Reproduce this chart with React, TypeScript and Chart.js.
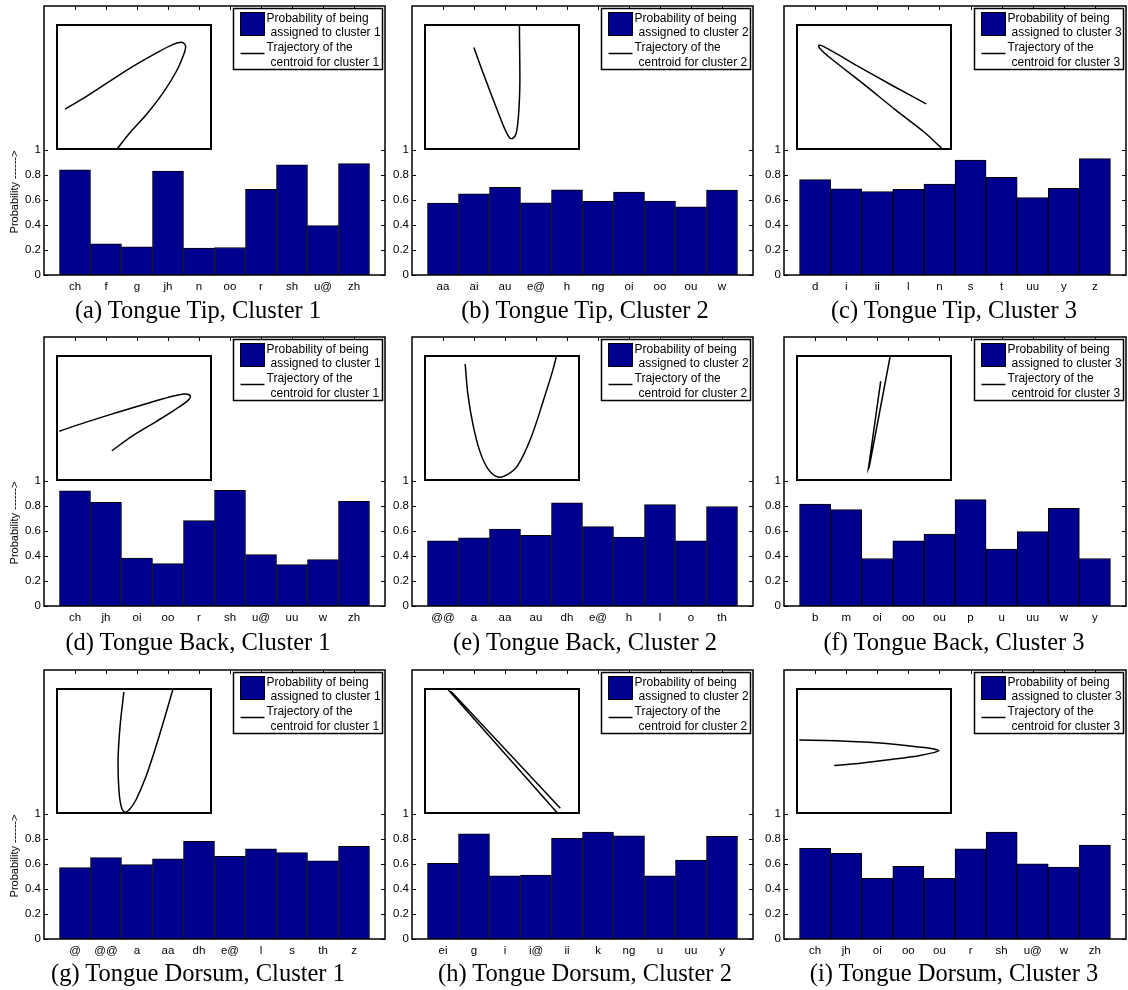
import React, { useEffect, useRef } from "react";
import { Chart, registerables } from "chart.js";
Chart.register(...registerables);

// ---------- data ----------
const yTickValues = [0, 0.2, 0.4, 0.6, 0.8, 1];
const yAxisMax = 2.15;
const yAxisTitle = "Probability ------>";
const barColor = "#00008F";

const catsA = ["ch", "f", "g", "jh", "n", "oo", "r", "sh", "u@", "zh"];
const probA = [0.84, 0.25, 0.225, 0.83, 0.215, 0.22, 0.685, 0.88, 0.395, 0.89];
const trajAx = [5.8, 19.3, 34.3, 49.3, 64.2, 74.9, 80.9, 83.1, 81.8, 77.1, 68.5, 57.8, 47.1, 38.1];
const trajAy = [32.4, 42.4, 54.4, 66.3, 76.9, 83.6, 85.4, 82.2, 75.6, 62.3, 45.1, 27.9, 13.3, -1];

const catsB = ["aa", "ai", "au", "e@", "h", "ng", "oi", "oo", "ou", "w"];
const probB = [0.575, 0.648, 0.7, 0.577, 0.68, 0.588, 0.663, 0.59, 0.544, 0.678];
const trajBx = [32.0, 36.7, 42.0, 47.3, 51.6, 54.8, 56.9, 59.1, 60.6, 61.4, 61.4, 61.2, 61.2];
const trajBy = [81.4, 65.0, 47.7, 30.5, 17.2, 9.8, 9.3, 13.3, 27.9, 49.1, 70.3, 91.5, 101];

const catsC = ["d", "i", "ii", "l", "n", "s", "t", "uu", "y", "z"];
const probC = [0.762, 0.688, 0.667, 0.685, 0.727, 0.918, 0.78, 0.619, 0.693, 0.93];
const trajCx = [83.4, 61.7, 40.4, 23.4, 16.0, 14.5, 16.0, 23.4, 42.6, 63.8, 83.0, 95.3];
const trajCy = [36.6, 51.2, 66.0, 78.2, 83.0, 82.8, 79.6, 71.6, 53.1, 31.8, 13.3, -1];

const catsD = ["ch", "jh", "oi", "oo", "r", "sh", "u@", "uu", "w", "zh"];
const probD = [0.92, 0.829, 0.384, 0.339, 0.683, 0.925, 0.411, 0.331, 0.371, 0.837];
const trajDx = [2.1, 19.3, 38.5, 57.8, 72.8, 82.4, 86.1, 84.6, 77.1, 64.2, 49.3, 35.8];
const trajDy = [39.5, 46.7, 54.1, 61.3, 66.7, 69.1, 67.5, 64.0, 57.3, 47.2, 36.0, 24.0];

const catsE = ["@@", "a", "aa", "au", "dh", "e@", "h", "l", "o", "th"];
const probE = [0.52, 0.545, 0.615, 0.565, 0.825, 0.635, 0.55, 0.81, 0.52, 0.795];
const trajEx = [26.4, 28.1, 31.3, 35.6, 40.9, 47.3, 53.7, 60.1, 68.7, 77.2, 82.5, 85.3];
const trajEy = [92.9, 69.1, 45.4, 24.3, 9.8, 3.2, 5.3, 12.4, 34.8, 66.5, 87.6, 101];

const catsF = ["b", "m", "oi", "oo", "ou", "p", "u", "uu", "w", "y"];
const probF = [0.815, 0.77, 0.38, 0.52, 0.575, 0.85, 0.455, 0.595, 0.78, 0.38];
const trajFx = [54.3, 46.4, 47.0, 60.6];
const trajFy = [79.2, 9.8, 11.5, 100.5];

const catsG = ["@", "@@", "a", "aa", "dh", "e@", "l", "s", "th", "z"];
const probG = [0.57, 0.65, 0.595, 0.64, 0.78, 0.66, 0.72, 0.69, 0.625, 0.74];
const trajGx = [43.5, 41.1, 39.8, 40.3, 41.8, 43.9, 47.1, 51.4, 57.8, 64.2, 70.7, 75.4];
const trajGy = [96.8, 70.1, 43.5, 19.5, 6.1, 1.6, 3.5, 11.5, 30.1, 54.1, 80.8, 101];

const catsH = ["ei", "g", "i", "i@", "ii", "k", "ng", "u", "uu", "y"];
const probH = [0.605, 0.84, 0.505, 0.51, 0.805, 0.855, 0.825, 0.505, 0.63, 0.82];
const trajHx = [86.8, 16.4, 17.9, 87.4];
const trajHy = [-1, 97.4, 96.6, 4.5];

const catsI = ["ch", "jh", "oi", "oo", "ou", "r", "sh", "u@", "w", "zh"];
const probI = [0.725, 0.685, 0.485, 0.58, 0.485, 0.72, 0.855, 0.6, 0.575, 0.75];
const trajIx = [2.1, 25.5, 46.8, 66.0, 80.9, 88.3, 91.5, 88.3, 78.7, 61.7, 42.6, 24.5];
const trajIy = [58.7, 58.2, 56.9, 55.0, 52.9, 51.6, 50.3, 48.7, 46.3, 43.4, 40.5, 38.4];

const captions = [
  "(a) Tongue Tip, Cluster 1",
  "(b) Tongue Tip, Cluster 2",
  "(c) Tongue Tip, Cluster 3",
  "(d) Tongue Back, Cluster 1",
  "(e) Tongue Back, Cluster 2",
  "(f) Tongue Back, Cluster 3",
  "(g) Tongue Dorsum, Cluster 1",
  "(h) Tongue Dorsum, Cluster 2",
  "(i) Tongue Dorsum, Cluster 3",
];
const clusterNumbers = [1, 2, 3, 1, 2, 3, 1, 2, 3];

// ---------- layout ----------
const colLefts = [44, 412, 784];
const colWidths = [341, 341, 342];
const rowTops = [6, 337, 670];
const plotH = 269;
const capCX = [198, 585, 954];
const capCY = [310, 642, 973];
const Y_AXIS_W = 44;
const PAD_TOP = 6;
const PAD_RIGHT = 4;
const X_AXIS_H = 22;

const panels = [
  { cats: catsA, probs: probA, tx: trajAx, ty: trajAy, tension: 0.35 },
  { cats: catsB, probs: probB, tx: trajBx, ty: trajBy, tension: 0.35 },
  { cats: catsC, probs: probC, tx: trajCx, ty: trajCy, tension: 0.3 },
  { cats: catsD, probs: probD, tx: trajDx, ty: trajDy, tension: 0.35 },
  { cats: catsE, probs: probE, tx: trajEx, ty: trajEy, tension: 0.35 },
  { cats: catsF, probs: probF, tx: trajFx, ty: trajFy, tension: 0 },
  { cats: catsG, probs: probG, tx: trajGx, ty: trajGy, tension: 0.35 },
  { cats: catsH, probs: probH, tx: trajHx, ty: trajHy, tension: 0 },
  { cats: catsI, probs: probI, tx: trajIx, ty: trajIy, tension: 0.35 },
];

const sansFamily = '"Liberation Sans", Arial, Helvetica, sans-serif';

const matlabPlugin = {
  id: "matlabFrame",
  beforeDatasetsDraw(chart: any) {
    const { ctx, chartArea: a, scales } = chart;
    const xs = scales.x;
    const ys = scales.y;
    ctx.save();
    ctx.strokeStyle = "#000";
    ctx.lineWidth = 1;
    ctx.beginPath();
    xs.ticks.forEach((t: any) => {
      const px = Math.round(xs.getPixelForValue(t.value)) + 0.5;
      ctx.moveTo(px, a.top);
      ctx.lineTo(px, a.top + 4);
      ctx.moveTo(px, a.bottom);
      ctx.lineTo(px, a.bottom - 4);
    });
    ys.ticks.forEach((t: any) => {
      const py = Math.round(ys.getPixelForValue(t.value)) + 0.5;
      ctx.moveTo(a.left, py);
      ctx.lineTo(a.left + 4, py);
      ctx.moveTo(a.right, py);
      ctx.lineTo(a.right - 4, py);
    });
    ctx.stroke();
    ctx.restore();
  },
  afterDraw(chart: any, _args: any, opts: any) {
    const { ctx, chartArea: a } = chart;
    ctx.save();
    ctx.strokeStyle = "#000";
    ctx.lineWidth = 1.5;
    ctx.strokeRect(a.left, a.top, a.right - a.left, a.bottom - a.top);

    // legend
    const w = 149;
    const h = 61;
    const lx = Math.round(a.right - 3 - w) + 0.5;
    const ly = Math.round(a.top + 2) + 0.5;
    ctx.fillStyle = "#fff";
    ctx.fillRect(lx, ly, w, h);
    ctx.lineWidth = 1.5;
    ctx.strokeRect(lx, ly, w, h);
    ctx.fillStyle = barColor;
    ctx.fillRect(lx + 7, ly + 4, 24, 23);
    ctx.lineWidth = 1;
    ctx.strokeRect(lx + 7, ly + 4, 24, 23);
    ctx.lineWidth = 1.5;
    ctx.beginPath();
    ctx.moveTo(lx + 7, ly + 45);
    ctx.lineTo(lx + 31, ly + 45);
    ctx.stroke();
    ctx.save();
    ctx.beginPath();
    ctx.rect(lx, ly, w - 1, h);
    ctx.clip();
    ctx.fillStyle = "#000";
    ctx.font = "12px " + sansFamily;
    ctx.textBaseline = "middle";
    ctx.textAlign = "left";
    const c = opts.cluster;
    ctx.fillText("Probability of being", lx + 33, ly + 10);
    ctx.fillText("assigned to cluster " + c, lx + 37, ly + 24);
    ctx.fillText("Trajectory of the", lx + 33, ly + 39);
    ctx.fillText("centroid for cluster " + c, lx + 37, ly + 54);
    ctx.restore();

    if (opts.showTitle) {
      ctx.save();
      ctx.translate(15, a.bottom - 83);
      ctx.rotate(-Math.PI / 2);
      ctx.fillStyle = "#000";
      ctx.font = "11px " + sansFamily;
      ctx.textAlign = "center";
      ctx.textBaseline = "middle";
      ctx.fillText(yAxisTitle, 0, 0);
      ctx.restore();
    }
    ctx.restore();
  },
};

const insetFramePlugin = {
  id: "insetFrame",
  afterDraw(chart: any) {
    const { ctx, width, height } = chart;
    ctx.save();
    ctx.strokeStyle = "#000";
    ctx.lineWidth = 2;
    ctx.strokeRect(1, 1, width - 2, height - 2);
    ctx.restore();
  },
};

function Panel({ index }: { index: number }) {
  const mainRef = useRef<HTMLCanvasElement | null>(null);
  const insetRef = useRef<HTMLCanvasElement | null>(null);
  const p = panels[index];
  const col = index % 3;
  const row = Math.floor(index / 3);
  const axLeft = colLefts[col];
  const axW = colWidths[col];
  const axTop = rowTops[row];
  const cw = Y_AXIS_W + axW + PAD_RIGHT;
  const ch = PAD_TOP + plotH + X_AXIS_H;
  const insetW = 156;
  const insetH = 126;

  useEffect(() => {
    const cats = p.cats;
    const font = { family: sansFamily, size: 11.5 };
    const main = new Chart(mainRef.current as HTMLCanvasElement, {
      type: "bar",
      data: {
        datasets: [
          {
            data: p.probs.map((v, i) => ({ x: i + 1, y: v })),
            backgroundColor: barColor,
            borderColor: "#000",
            borderWidth: 1,
            barPercentage: 1,
            categoryPercentage: 1,
          } as any,
        ],
      },
      options: {
        animation: false,
        responsive: false,
        layout: { padding: { top: PAD_TOP, right: PAD_RIGHT, left: 0, bottom: 0 } },
        plugins: {
          legend: { display: false },
          tooltip: { enabled: false },
          matlabFrame: { cluster: clusterNumbers[index], showTitle: col === 0 },
        } as any,
        scales: {
          x: {
            type: "linear",
            min: 0,
            max: 11,
            offset: false,
            grid: { display: false, drawTicks: false },
            border: { display: false },
            ticks: {
              stepSize: 1,
              autoSkip: false,
              maxRotation: 0,
              padding: 5,
              color: "#000",
              font,
              callback: (v: any) => cats[Number(v) - 1] ?? "",
            },
            afterBuildTicks: (s: any) => {
              s.ticks = cats.map((_, i) => ({ value: i + 1 }));
            },
            afterFit: (s: any) => {
              s.height = X_AXIS_H;
              s.paddingLeft = 0;
              s.paddingRight = 0;
            },
          },
          y: {
            type: "linear",
            min: 0,
            max: yAxisMax,
            grid: { display: false, drawTicks: false },
            border: { display: false },
            ticks: {
              padding: 3,
              color: "#000",
              font,
              callback: (v: any) => String(Number(Number(v).toFixed(1))),
            },
            afterBuildTicks: (s: any) => {
              s.ticks = yTickValues.map((v) => ({ value: v }));
            },
            afterFit: (s: any) => {
              s.width = Y_AXIS_W;
              s.paddingTop = 0;
              s.paddingBottom = 0;
            },
          },
        } as any,
      },
      plugins: [matlabPlugin as any],
    });

    const inset = new Chart(insetRef.current as HTMLCanvasElement, {
      type: "scatter",
      data: {
        datasets: [
          {
            data: p.tx.map((x, i) => ({ x, y: p.ty[i] })),
            showLine: true,
            borderColor: "#000",
            borderWidth: 1.5,
            pointRadius: 0,
            tension: p.tension,
            fill: false,
          } as any,
        ],
      },
      options: {
        animation: false,
        responsive: false,
        layout: { padding: 0 },
        plugins: { legend: { display: false }, tooltip: { enabled: false } },
        scales: {
          x: { type: "linear", min: 0, max: 100, display: false },
          y: { type: "linear", min: 0, max: 100, display: false },
        },
      },
      plugins: [insetFramePlugin as any],
    });

    return () => {
      main.destroy();
      inset.destroy();
    };
  }, [index]);

  return (
    <>
      <canvas
        ref={mainRef}
        width={cw}
        height={ch}
        style={{ position: "absolute", left: axLeft - Y_AXIS_W, top: axTop - PAD_TOP, width: cw, height: ch }}
      />
      <canvas
        ref={insetRef}
        width={insetW}
        height={insetH}
        style={{ position: "absolute", left: axLeft + 12, top: axTop + 18, width: insetW, height: insetH }}
      />
      <div
        style={{
          position: "absolute",
          left: capCX[col] - 200,
          top: capCY[row] - 15,
          width: 400,
          height: 30,
          lineHeight: "30px",
          textAlign: "center",
          fontFamily: '"Liberation Serif", "Times New Roman", serif',
          fontSize: 24.5,
          color: "#000",
          whiteSpace: "nowrap",
        }}
      >
        {captions[index]}
      </div>
    </>
  );
}

export default function App() {
  return (
    <div
      style={{
        position: "absolute",
        left: 0,
        top: 0,
        width: 1128,
        height: 990,
        overflow: "hidden",
        background: "#fff",
      }}
    >
      {panels.map((_, i) => (
        <Panel key={i} index={i} />
      ))}
    </div>
  );
}
